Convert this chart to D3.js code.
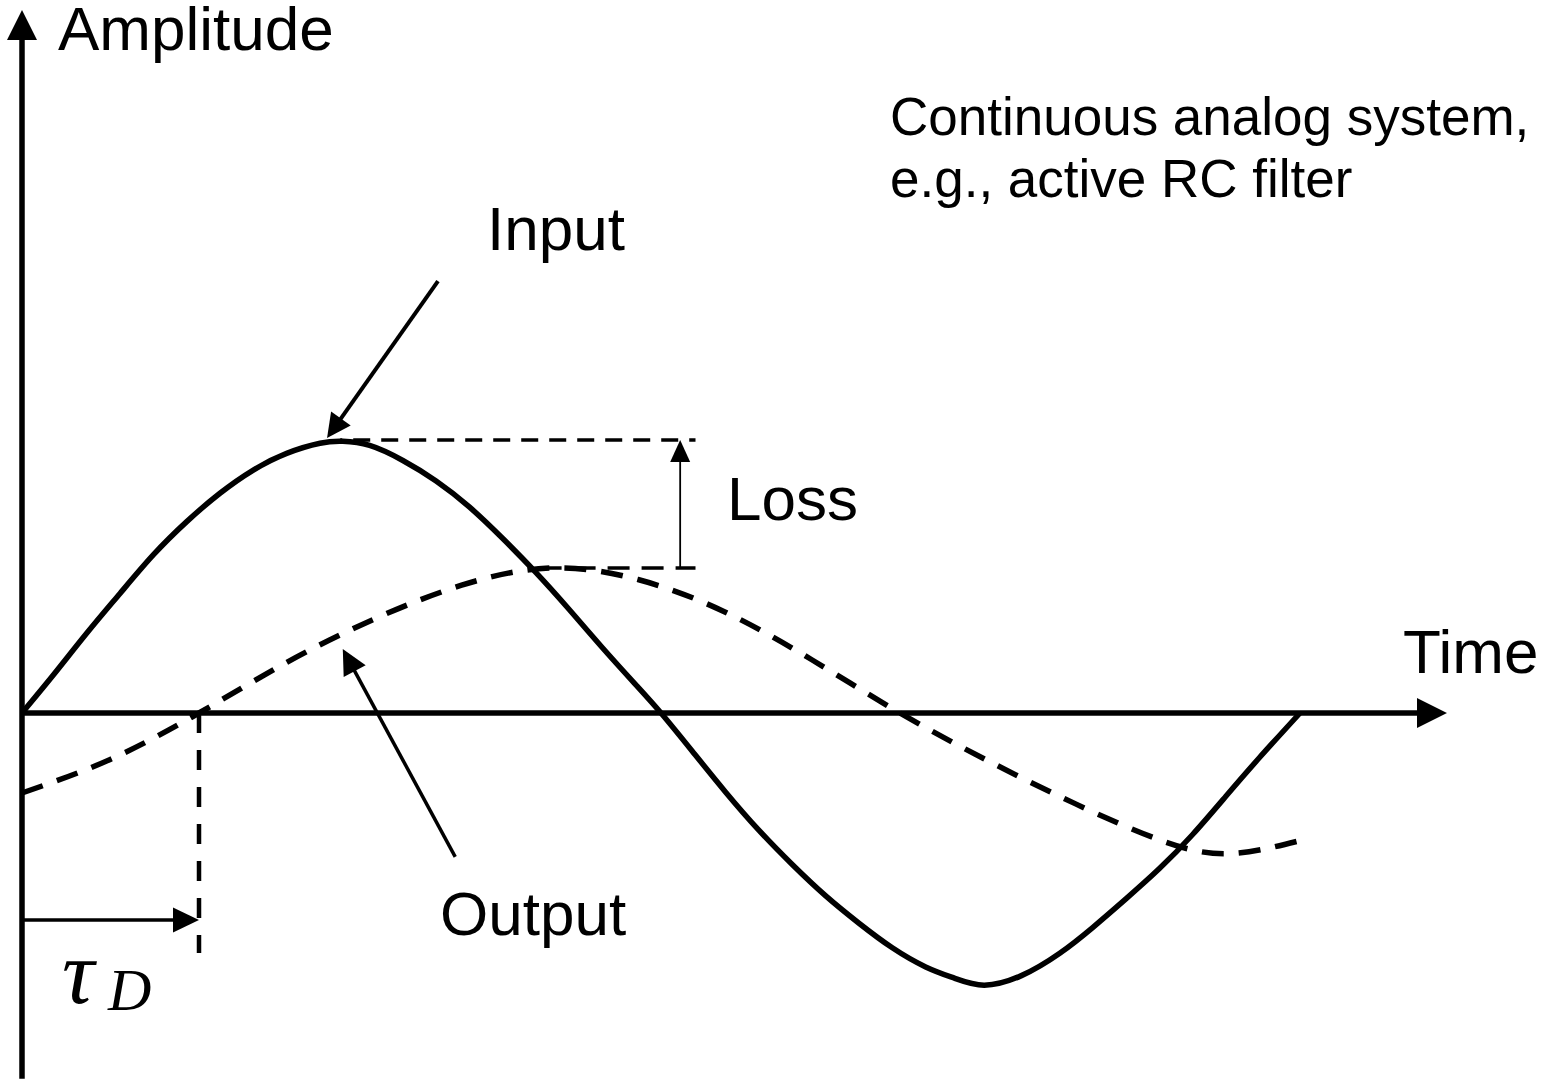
<!DOCTYPE html>
<html>
<head>
<meta charset="utf-8">
<script src="https://cdn.jsdelivr.net/npm/d3@7"></script>
<style>
  body { margin: 0; background: #fff; }
  svg { display: block; }
  .lbl { font-family: "Liberation Sans", Arial, sans-serif; fill: #000; }
  .math { font-family: "Liberation Serif", "Times New Roman", serif; font-style: italic; fill: #000; }
  path.wave { shape-rendering: geometricPrecision; stroke-linejoin: round; }
</style>
</head>
<body>
<div id="chart-area"></div>
<script>
// time in units of the input period (0..100), amplitude normalised to the input peak
const inputT = [0, 2.45, 5.06, 7.67, 10.27, 12.89, 15.49, 18.1, 20.71, 23.32, 25.1,
                27.2, 29.8, 32.4, 35.0, 37.6, 40.2, 42.8, 45.4, 48.0, 50.0,
                52.45, 55.06, 57.67, 60.27, 62.89, 65.49, 68.1, 70.71, 73.0, 75.3,
                78.2, 81.2, 83.8, 86.4, 89.0, 91.6, 94.2, 96.8, 100];
const inputA = [0, 0.139, 0.292, 0.438, 0.579, 0.701, 0.805, 0.890, 0.951, 0.988, 0.995,
                0.98, 0.925, 0.85, 0.755, 0.64, 0.515, 0.38, 0.24, 0.105, 0,
                -0.14, -0.29, -0.43, -0.555, -0.67, -0.77, -0.86, -0.93, -0.972, -0.997,
                -0.962, -0.88, -0.785, -0.68, -0.57, -0.445, -0.305, -0.165, 0];

const outputT = [0, 6.9, 13.85, 20.7, 27.6, 34.4, 41.3, 48.2, 55.0, 61.8, 68.7,
                 75.5, 82.4, 89.2, 94.5, 100.2];
const outputA = [-0.293, -0.17, 0, 0.185, 0.345, 0.468, 0.531, 0.489, 0.37, 0.195, 0,
                 -0.173, -0.332, -0.468, -0.515, -0.465];

const delayT = 13.85;          // tau_D
const peakIn = 1.0;            // input peak amplitude
const peakOut = 0.531;         // output peak amplitude
const peakInT = 24.9;
const peakOutT = 40.5;
const lossEndT = 52.7;
const lossArrowT = 51.5;

const config = {
    width: 1543,
    height: 1082,
    x0: 22, x100: 1300,
    yZero: 713, yPeak: 440
};

const xScale = d3.scaleLinear().domain([0, 100]).range([config.x0, config.x100]);
const yScale = d3.scaleLinear().domain([0, 1]).range([config.yZero, config.yPeak]);

const svg = d3.select('#chart-area')
    .append('svg')
    .attr('width', config.width)
    .attr('height', config.height);

// arrow head drawn as a triangle at (x2,y2), pointing from (x1,y1)
function arrowHead(x1, y1, x2, y2, len, half) {
    const ang = Math.atan2(y2 - y1, x2 - x1);
    const bx = x2 - len * Math.cos(ang), by = y2 - len * Math.sin(ang);
    const nx = -Math.sin(ang) * half, ny = Math.cos(ang) * half;
    svg.append('path')
        .attr('d', `M${x2},${y2}L${bx + nx},${by + ny}L${bx - nx},${by - ny}Z`)
        .attr('fill', '#000');
}

function arrow(t1, a1, t2, a2, width, len, half) {
    const x1 = xScale(t1), y1 = yScale(a1), x2 = xScale(t2), y2 = yScale(a2);
    const ang = Math.atan2(y2 - y1, x2 - x1);
    svg.append('line')
        .attr('x1', x1).attr('y1', y1)
        .attr('x2', x2 - (len - 2) * Math.cos(ang)).attr('y2', y2 - (len - 2) * Math.sin(ang))
        .attr('stroke', '#000').attr('stroke-width', width);
    arrowHead(x1, y1, x2, y2, len, half);
}

// axes
arrow(0, -1.34, 0, 2.575, 5.5, 30, 15);
arrow(0, 0, 111.5, 0, 5.5, 30, 15);

// loss guide lines
svg.append('line')
    .attr('x1', xScale(peakInT)).attr('x2', xScale(lossEndT))
    .attr('y1', yScale(peakIn)).attr('y2', yScale(peakIn))
    .attr('stroke', '#000').attr('stroke-width', 3.5)
    .attr('stroke-dasharray', '17,11').attr('stroke-dashoffset', -13);
svg.append('line')
    .attr('x1', xScale(peakOutT)).attr('x2', xScale(lossEndT))
    .attr('y1', yScale(peakOut)).attr('y2', yScale(peakOut))
    .attr('stroke', '#000').attr('stroke-width', 3.5)
    .attr('stroke-dasharray', '22,12');
arrow(lossArrowT, peakOut, lossArrowT, peakIn, 1.8, 22, 10);

// delay marker
svg.append('line')
    .attr('x1', xScale(delayT)).attr('x2', xScale(delayT))
    .attr('y1', yScale(0)).attr('y2', yScale(-0.879))
    .attr('stroke', '#000').attr('stroke-width', 4.5)
    .attr('stroke-dasharray', '20,17');
arrow(0, -0.758, delayT, -0.758, 3.5, 26, 12.5);

// curves
const line = d3.line()
    .x(d => xScale(d[0]))
    .y(d => yScale(d[1]))
    .curve(d3.curveNatural);

svg.append('path')
    .attr('class', 'wave')
    .datum(inputT.map((t, i) => [t, inputA[i]]))
    .attr('d', line)
    .attr('fill', 'none')
    .attr('stroke', '#000')
    .attr('stroke-width', 5.5);

svg.append('path')
    .attr('class', 'wave')
    .datum(outputT.map((t, i) => [t, outputA[i]]))
    .attr('d', line)
    .attr('fill', 'none')
    .attr('stroke', '#000')
    .attr('stroke-width', 5.5)
    .attr('stroke-dasharray', '22,15');

// pointer arrows
arrow(32.55, 1.582, 23.87, 1.007, 4, 24, 12);
arrow(33.9, -0.527, 25.1, 0.234, 3.5, 25, 12.5);

// labels
const labels = [
    { text: 'Amplitude', x: 58, y: 50, size: 62 },
    { text: 'Time', x: 1403, y: 673, size: 62 },
    { text: 'Input', x: 487, y: 250, size: 62 },
    { text: 'Loss', x: 727, y: 520, size: 62 },
    { text: 'Output', x: 440, y: 935, size: 62 },
    { text: 'Continuous analog system,', x: 890, y: 135, size: 53 },
    { text: 'e.g., active RC filter', x: 890, y: 197, size: 53 }
];
svg.selectAll('text.lbl')
    .data(labels)
    .enter().append('text')
    .attr('class', 'lbl')
    .attr('x', d => d.x)
    .attr('y', d => d.y)
    .attr('font-size', d => d.size + 'px')
    .text(d => d.text);

svg.append('text').attr('class', 'math')
    .attr('x', 62).attr('y', 1003).attr('font-size', '90px').text('τ');
svg.append('text').attr('class', 'math')
    .attr('x', 108).attr('y', 1010).attr('font-size', '60px').text('D');
</script>
</body>
</html>
